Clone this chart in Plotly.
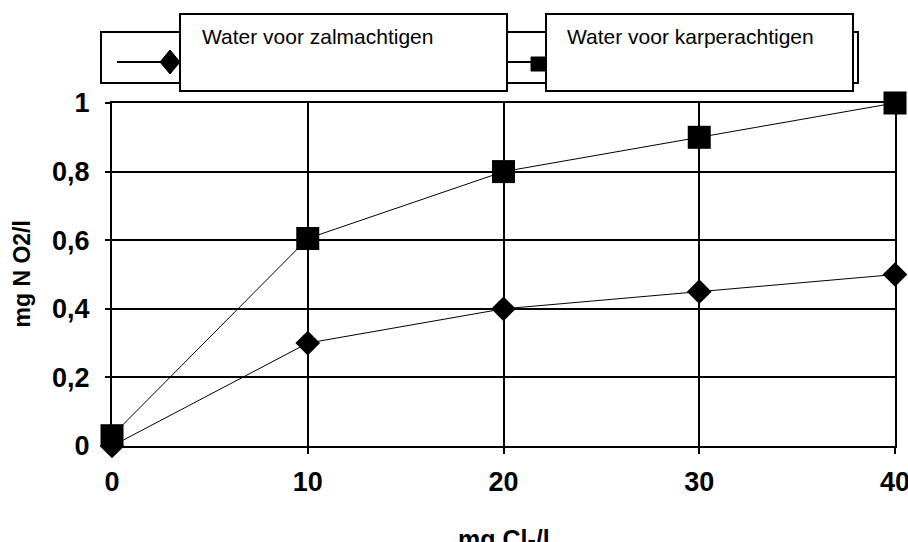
import plotly.graph_objects as go

x_vals = [0, 10, 20, 30, 40]
zalm = [0.0, 0.30, 0.40, 0.45, 0.50]
karper = [0.03, 0.605, 0.80, 0.90, 1.0]
series_names = ["Water voor zalmachtigen", "Water voor karperachtigen"]
x_ticks = [0, 10, 20, 30, 40]
y_ticks = [0, 0.2, 0.4, 0.6, 0.8, 1.0]
x_title = "mg Cl-/l"
y_title = "mg N O2/l"

W, H = 908, 542
L, R, T, B = 112, 13, 103, 96
PW, PH = W - L - R, H - T - B

def px(x):
    return (x - L) / PW

def py(y):
    return (H - B - y) / PH

fig = go.Figure()
fig.add_trace(go.Scatter(x=x_vals, y=zalm, mode="lines+markers", name=series_names[0],
                         line=dict(color="black", width=1),
                         marker=dict(symbol="diamond", size=19, color="black"),
                         cliponaxis=False, showlegend=False))
fig.add_trace(go.Scatter(x=x_vals, y=karper, mode="lines+markers", name=series_names[1],
                         line=dict(color="black", width=1),
                         marker=dict(symbol="square", size=23, color="black"),
                         cliponaxis=False, showlegend=False))

tickfont = dict(family="Liberation Sans, Arial, sans-serif", size=27, color="black", weight="bold")
fig.update_xaxes(range=[0, 40], tickvals=x_ticks, showgrid=True, gridcolor="black", gridwidth=2,
                 showline=True, linecolor="black", linewidth=2, mirror=True,
                 ticks="outside", ticklen=6, tickwidth=2, tickcolor="black",
                 tickfont=tickfont, ticklabelstandoff=5, ticklabeloverflow="allow", zeroline=False)
fig.update_yaxes(range=[0, 1], tickvals=y_ticks, showgrid=True, gridcolor="black", gridwidth=2,
                 showline=True, linecolor="black", linewidth=2, mirror=True,
                 ticks="outside", ticklen=5, tickwidth=2, tickcolor="black",
                 tickfont=tickfont, ticklabelstandoff=10, ticklabeloverflow="allow", zeroline=False)

shapes = []
line_style = dict(color="black", width=2)
# outer legend frame
shapes.append(dict(type="rect", xref="paper", yref="paper", x0=px(101), x1=px(858), y0=py(83), y1=py(32),
                   line=line_style, fillcolor="white", layer="above"))
# legend line samples
shapes.append(dict(type="line", xref="paper", yref="paper", x0=px(117), x1=px(175), y0=py(62), y1=py(62),
                   line=line_style, layer="above"))
shapes.append(dict(type="line", xref="paper", yref="paper", x0=px(500), x1=px(546), y0=py(62), y1=py(62),
                   line=line_style, layer="above"))
# legend diamond
cx, cy = 170, 62
shapes.append(dict(type="path", xref="paper", yref="paper",
                   path=f"M {px(cx-10)},{py(cy)} L {px(cx)},{py(cy-12)} L {px(cx+10)},{py(cy)} L {px(cx)},{py(cy+12)} Z",
                   line=dict(color="black", width=1), fillcolor="black", layer="above"))
# legend square
shapes.append(dict(type="rect", xref="paper", yref="paper", x0=px(531), x1=px(546), y0=py(71), y1=py(57),
                   line=dict(color="black", width=1), fillcolor="black", layer="above"))
# white label boxes
shapes.append(dict(type="rect", xref="paper", yref="paper", x0=px(180), x1=px(507), y0=py(91), y1=py(14),
                   line=line_style, fillcolor="white", layer="above"))
shapes.append(dict(type="rect", xref="paper", yref="paper", x0=px(546), x1=px(853), y0=py(91), y1=py(14),
                   line=line_style, fillcolor="white", layer="above"))

annotations = [
    dict(text=series_names[0], xref="paper", yref="paper", x=px(200), y=py(36), xanchor="left", yanchor="middle",
         showarrow=False, font=dict(family="Liberation Sans, Arial, sans-serif", size=21, color="black")),
    dict(text=series_names[1], xref="paper", yref="paper", x=px(565), y=py(36), xanchor="left", yanchor="middle",
         showarrow=False, font=dict(family="Liberation Sans, Arial, sans-serif", size=21, color="black")),
    dict(text=x_title, xref="paper", yref="paper", x=0.5, y=py(523), xanchor="center", yanchor="top",
         showarrow=False,
         font=dict(family="Liberation Sans, Arial, sans-serif", size=25, color="black", weight="bold")),
    dict(text=y_title, xref="paper", yref="paper", x=px(21), y=0.5, xanchor="center", yanchor="middle",
         textangle=-90, showarrow=False,
         font=dict(family="Liberation Sans, Arial, sans-serif", size=23, color="black", weight="bold")),
]

fig.update_layout(width=W, height=H, margin=dict(l=L, r=R, t=T, b=B, autoexpand=False),
                  paper_bgcolor="white", plot_bgcolor="white", separators=",.",
                  shapes=shapes, annotations=annotations,
                  font=dict(family="Liberation Sans, Arial, sans-serif", color="black"))

fig.write_html("out.html", config={"displayModeBar": False},
               post_script="document.body.style.margin='0';document.body.style.padding='0';")
